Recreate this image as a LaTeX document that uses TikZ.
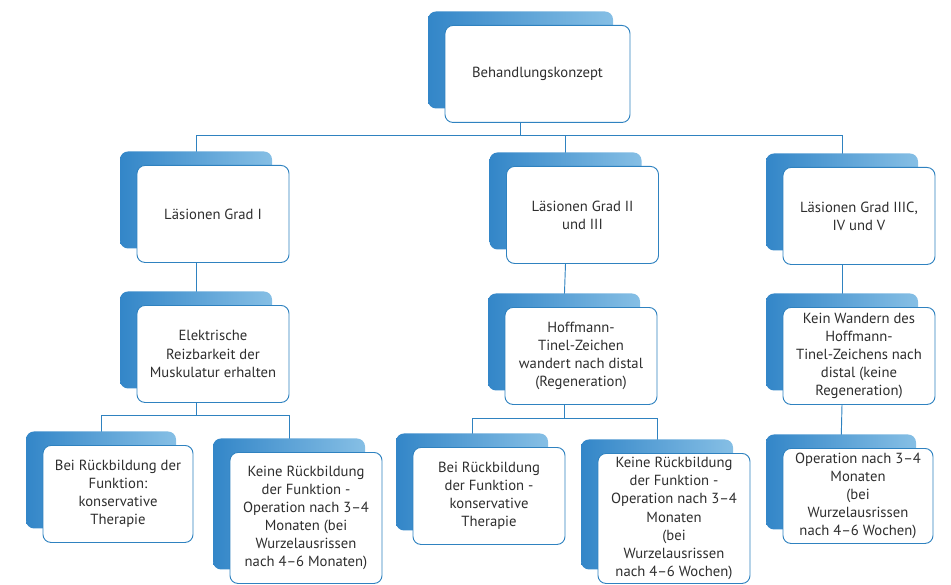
\documentclass[tikz,border=0pt]{standalone}
\usepackage{fontspec}
\setmainfont{PT Sans}
\usepackage{xcolor}
\usetikzlibrary{positioning,shadows,backgrounds}

\definecolor{boxline}{HTML}{2F82C0}
\definecolor{tabdark}{HTML}{3386C8}
\definecolor{tablight}{HTML}{86BFE5}
\definecolor{textgray}{HTML}{2E2E2E}

\tikzset{
  kbox/.style={draw=boxline, line width=0.7pt, fill=white, rounded corners=6pt,
    align=center, anchor=north, minimum width=114pt, minimum height=72.75pt,
    inner sep=2pt, text=textgray, font=\fontsize{11}{13.6}\selectfont,
    general shadow={shadow xshift=-12.75pt, shadow yshift=10.5pt,
      draw=none, left color=tabdark, right color=tablight}},
  link/.style={draw=boxline, line width=0.7pt}
}

\begin{document}
\begin{tikzpicture}[x=0.75pt, y=-0.75pt]
    \useasboundingbox (0,0) rectangle (951,585);

    % top
    \node[kbox, minimum width=138.75pt] (konzept) at (537.5,25) {Behandlungskonzept};

    % grades
    \node[kbox] (gradI) at (213,165) {Läsionen Grad I};
    \node[kbox] (gradII) at (582.5,166) {Läsionen Grad II\\und III};
    \node[kbox] (gradIII) at (859,167) {Läsionen Grad IIIC,\\IV und V};

    % findings
    \node[kbox] (reiz) at (213,305) {Elektrische\\Reizbarkeit der\\Muskulatur erhalten};
    \node[kbox] (tinel) at (581,307) {Hoffmann-\\Tinel-Zeichen\\wandert nach distal\\(Regeneration)};
    \node[kbox] (keintinel) at (859,307) {Kein Wandern des\\Hoffmann-\\Tinel-Zeichens nach\\distal (keine\\Regeneration)};

    % therapy
    \node[kbox, minimum width=112.5pt] (konsI) at (118,445) {Bei Rückbildung der\\Funktion:\\konservative\\Therapie};
    \node[kbox, minimum height=98.25pt] (opI) at (306,452) {Keine Rückbildung\\der Funktion -\\Operation nach 3--4\\Monaten (bei\\Wurzelausrissen\\nach 4--6 Monaten)};
    \node[kbox] (konsII) at (489,447) {Bei Rückbildung\\der Funktion -\\konservative\\Therapie};
    \node[kbox, minimum height=97.5pt] (opII) at (674,453) {Keine Rückbildung\\der Funktion -\\Operation nach 3--4\\Monaten\\(bei\\Wurzelausrissen\\nach 4--6 Wochen)};
    \node[kbox, minimum width=112.5pt, minimum height=71.25pt] (opIII) at (858,448) {Operation nach 3--4\\Monaten\\(bei\\Wurzelausrissen\\nach 4--6 Wochen)};

    % connectors
    \begin{scope}[on background layer]
        \draw[link] ([xshift=-12.75pt]konzept.south) -- ++(0,13) coordinate (j0);
        \draw[link] (j0) -| ([xshift=-12.75pt]gradI.north);
        \draw[link] (j0) -| ([xshift=-12.75pt]gradII.north);
        \draw[link] (j0) -| ([xshift=-12.75pt]gradIII.north);
        \draw[link] ([xshift=-12.75pt]gradI.south) -- ([xshift=-12.75pt]reiz.north);
        \draw[link] ([xshift=-12.75pt]gradII.south) -- ([xshift=-12.75pt]tinel.north);
        \draw[link] ([xshift=-12.75pt]gradIII.south) -- ([xshift=-12.75pt]keintinel.north);
        \draw[link] ([xshift=-12.75pt]reiz.south) -- ++(0,13) coordinate (j1);
        \draw[link] (j1) -| ([xshift=-12.75pt]konsI.north);
        \draw[link] (j1) -| ([xshift=-12.75pt]opI.north);
        \draw[link] ([xshift=-12.75pt]tinel.south) -- ++(0,14) coordinate (j2);
        \draw[link] (j2) -| ([xshift=-12.75pt]konsII.north);
        \draw[link] (j2) -| ([xshift=-12.75pt]opII.north);
        \draw[link] ([xshift=-12.75pt]keintinel.south) -- ([xshift=-12.75pt]opIII.north);
    \end{scope}
\end{tikzpicture}
\end{document}
